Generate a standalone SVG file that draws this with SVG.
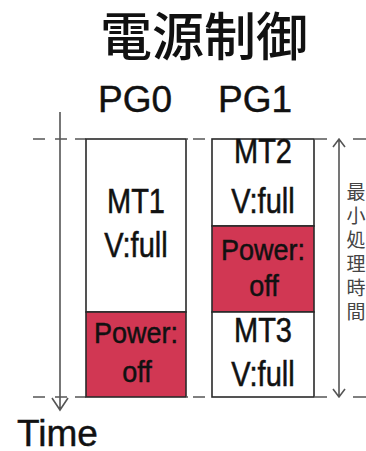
<svg xmlns="http://www.w3.org/2000/svg" width="366" height="451" viewBox="0 0 366 451">
<style>
.lat{font-family:"Liberation Sans",Arial,sans-serif;fill:#111;stroke:#111;stroke-width:0.45}
.cjk{font-family:"Noto Sans CJK JP",sans-serif}
.box{stroke:#2a2a2a;stroke-width:1.6}
.white{fill:#fff}
.red{fill:#D13753}
.dash{stroke:#555;stroke-width:1.6;fill:none}
.axis{stroke:#555;stroke-width:1.6;fill:none}
</style>
<rect width="366" height="451" fill="#fff"/>
<text class="cjk" x="204" y="56" font-size="52" font-weight="500" text-anchor="middle" fill="#111">電源制御</text>
<text class="lat" x="135" y="112" font-size="37" text-anchor="middle">PG0</text>
<text class="lat" x="255" y="112" font-size="37" text-anchor="middle">PG1</text>
<g id="connectors">
<path class="dash" d="M33 139H45M55 139H67M75 139H86M187 139H188M193 139H205M315 139H327M353 139H366"/>
<path class="dash" d="M33 397H45M55 397H67M75 397H86M187 397H188M193 397H205M315 397H327M353 397H366"/>
<path class="axis" d="M60 112V410M52 398L60 410L68 398"/>
<path class="axis" d="M339 139V397M333 147L339 139L345 147M333 389L339 397L345 389"/>
</g>
<g id="pg0-mt1">
<rect class="box white" x="86" y="139" width="100" height="173"/>
<text class="lat" transform="translate(136,213) scale(1,1.2)" font-size="29" text-anchor="middle">MT1</text>
<text class="lat" transform="translate(136,257) scale(1,1.2)" font-size="29" text-anchor="middle">V:full</text>
</g>
<g id="pg0-off">
<rect class="box red" x="86" y="312" width="100" height="85"/>
<text class="lat" transform="translate(136,343) scale(1,1.1)" font-size="27" text-anchor="middle">Power:</text>
<text class="lat" transform="translate(137,382) scale(1,1.1)" font-size="27" text-anchor="middle">off</text>
</g>
<g id="pg1-mt2">
<rect class="box white" x="212" y="139" width="102" height="87"/>
<text class="lat" transform="translate(263,163) scale(1,1.2)" font-size="29" text-anchor="middle">MT2</text>
<text class="lat" transform="translate(263,213) scale(1,1.2)" font-size="29" text-anchor="middle">V:full</text>
</g>
<g id="pg1-off">
<rect class="box red" x="212" y="226" width="102" height="86"/>
<text class="lat" transform="translate(263,260) scale(1,1.1)" font-size="27" text-anchor="middle">Power:</text>
<text class="lat" transform="translate(264,296) scale(1,1.1)" font-size="27" text-anchor="middle">off</text>
</g>
<g id="pg1-mt3">
<rect class="box white" x="212" y="312" width="102" height="85"/>
<text class="lat" transform="translate(263,342) scale(1,1.2)" font-size="29" text-anchor="middle">MT3</text>
<text class="lat" transform="translate(263,386) scale(1,1.2)" font-size="29" text-anchor="middle">V:full</text>
</g>
<g id="min-time-label">
<text class="cjk" x="356" y="182" font-size="19" fill="#444" writing-mode="vertical-rl" letter-spacing="5">最小処理時間</text>
</g>
<text class="lat" x="17" y="446" font-size="37">Time</text>
</svg>
